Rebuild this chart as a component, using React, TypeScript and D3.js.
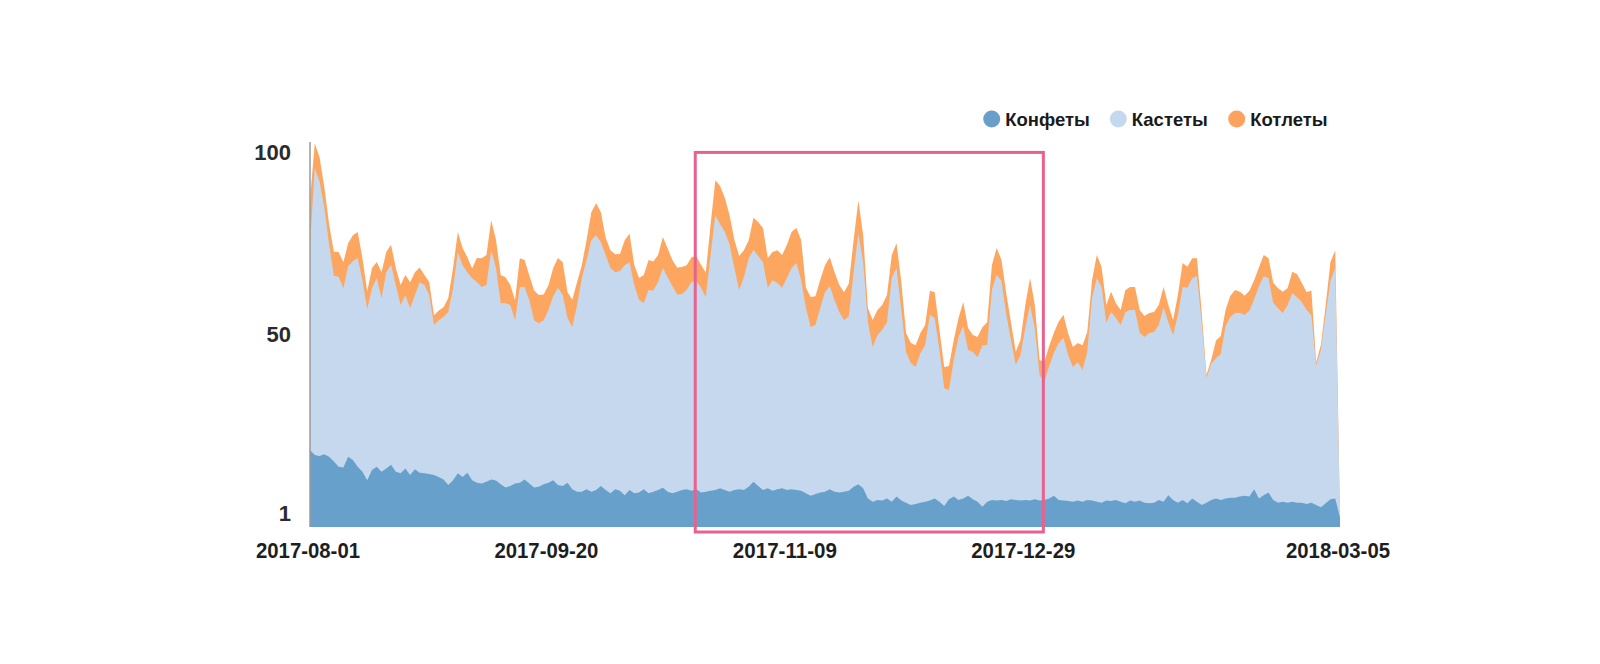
import React from 'react';
import * as d3 from 'd3';

// ---------- data (daily 2017-08-01 .. 2018-03-05) ----------
const startDate = '2017-08-01';
const endDate = '2018-03-05';

const seriesNames = ['Конфеты', 'Кастеты', 'Котлеты'];

const konfety = [
  18.5, 17.1, 16.8, 17.3, 16.6, 15.3, 13.9, 13.7, 16.6, 15.7,
  13.9, 12.5, 10.2, 13.0, 13.9, 12.5, 13.4, 14.4, 12.5, 12.1,
  13.4, 11.6, 13.2, 12.2, 12.1, 11.9, 11.6, 11.1, 10.4, 8.9,
  10.2, 12.1, 11.1, 12.2, 10.2, 9.5, 9.3, 9.8, 10.4, 10.1,
  9.1, 8.2, 8.6, 9.3, 9.5, 10.4, 9.3, 8.2, 8.4, 9.1,
  9.5, 10.2, 8.9, 8.6, 9.5, 7.7, 7.0, 7.0, 7.7, 7.0,
  7.5, 8.6, 7.5, 6.6, 7.7, 7.3, 6.1, 7.5, 6.6, 6.8,
  7.7, 6.6, 7.0, 7.5, 8.1, 7.0, 6.6, 7.0, 7.5, 7.7,
  7.3, 7.7, 6.8, 7.0, 7.3, 7.5, 8.0, 7.5, 7.0, 7.5,
  7.7, 7.5, 8.4, 9.8, 8.6, 7.5, 8.0, 7.3, 7.7, 8.0,
  7.5, 7.7, 7.5, 7.3, 6.6, 5.9, 6.4, 6.8, 7.0, 7.7,
  7.0, 6.8, 7.0, 7.3, 8.4, 9.1, 8.0, 5.2, 4.3, 4.8,
  4.6, 5.2, 4.3, 5.7, 4.6, 4.0, 3.4, 3.7, 4.0, 4.3,
  4.6, 5.2, 4.3, 3.1, 5.0, 5.7, 4.8, 5.2, 5.9, 5.0,
  4.3, 2.9, 4.3, 4.8, 4.6, 4.8, 4.5, 5.0, 4.8, 4.6,
  4.8, 4.6, 5.0, 4.6, 4.8, 5.2, 5.9, 4.8, 4.6, 4.5,
  4.3, 4.6, 4.3, 4.8, 4.6, 4.3, 4.0, 4.6, 4.5, 4.8,
  4.3, 3.9, 4.6, 4.3, 4.6, 4.0, 3.9, 4.0, 4.8, 4.3,
  6.1, 4.8, 4.0, 4.8, 3.9, 5.2, 4.3, 3.4, 4.0, 4.8,
  5.2, 4.8, 5.2, 5.4, 5.4, 5.7, 5.9, 5.7, 7.7, 5.2,
  6.1, 6.8, 4.8, 4.0, 4.3, 4.0, 4.3, 4.0, 4.0, 3.7,
  4.0, 3.4, 2.8, 3.9, 5.0, 5.2, 0,
];

const kastety = [
  56.2, 78.6, 75.3, 67.7, 58.3, 50.9, 52.0, 49.1, 52.2, 54.5,
  57.2, 52.5, 46.8, 49.8, 51.7, 47.6, 53.8, 54.8, 51.1, 46.1,
  47.5, 45.7, 47.7, 52.2, 51.6, 49.0, 41.1, 42.9, 44.5, 47.4,
  52.6, 60.6, 58.0, 55.0, 55.3, 55.0, 53.8, 53.9, 62.8, 58.3,
  49.6, 50.5, 49.6, 44.7, 53.6, 52.7, 50.2, 45.8, 44.8, 44.9,
  47.3, 50.4, 54.0, 52.3, 45.1, 44.5, 51.1, 58.5, 62.8, 68.9,
  69.8, 66.8, 64.4, 61.7, 59.5, 60.2, 63.0, 62.4, 57.1, 52.8,
  51.0, 55.7, 55.2, 57.0, 60.2, 58.8, 56.8, 54.1, 53.7, 54.6,
  57.2, 57.1, 56.1, 53.3, 64.6, 75.3, 72.4, 70.7, 67.8, 60.8,
  54.6, 58.3, 62.6, 63.5, 63.0, 62.4, 54.9, 57.7, 56.5, 54.9,
  58.1, 60.6, 62.2, 57.7, 50.8, 46.3, 46.3, 50.6, 54.7, 55.7,
  52.5, 49.5, 47.0, 47.8, 58.8, 68.7, 62.0, 48.3, 42.4, 45.2,
  46.8, 48.3, 61.3, 62.6, 52.2, 41.3, 38.9, 37.5, 41.0, 42.9,
  50.9, 49.4, 41.6, 32.3, 29.9, 37.4, 44.6, 47.2, 40.0, 40.3,
  39.6, 44.3, 42.9, 57.5, 61.8, 60.0, 51.2, 43.6, 37.0, 39.9,
  47.1, 53.6, 46.9, 34.4, 32.3, 36.2, 39.2, 43.0, 44.6, 40.0,
  36.9, 38.0, 36.1, 40.5, 55.5, 61.3, 59.1, 48.7, 51.8, 49.8,
  48.4, 52.4, 52.2, 52.5, 45.9, 45.4, 46.6, 46.8, 47.9, 53.3,
  47.4, 45.2, 51.4, 58.3, 59.0, 60.3, 61.8, 50.1, 34.2, 37.3,
  38.4, 40.0, 47.2, 49.5, 50.6, 50.3, 49.6, 50.9, 52.1, 58.1,
  60.0, 58.8, 54.0, 53.3, 51.7, 54.1, 57.2, 56.3, 55.0, 53.1,
  51.4, 38.3, 43.1, 51.6, 59.8, 63.1, 0,
];

const kotlety = [
  12.3, 6.8, 6.6, 5.5, 5.5, 6.6, 6.8, 7.1, 6.3, 7.1,
  7.1, 6.0, 4.9, 5.5, 4.4, 7.1, 5.5, 5.5, 4.7, 5.5,
  5.5, 7.1, 6.3, 4.1, 2.7, 3.6, 2.7, 2.7, 2.7, 3.8,
  5.5, 5.5, 4.7, 4.1, 2.7, 6.6, 7.9, 8.2, 8.2, 7.7,
  7.7, 7.1, 5.5, 5.5, 7.9, 7.4, 6.8, 8.2, 7.7, 7.1,
  6.8, 7.7, 8.2, 9.0, 7.1, 7.4, 6.3, 3.6, 5.5, 7.7,
  8.8, 8.2, 4.7, 4.9, 4.9, 4.7, 6.8, 7.9, 5.5, 6.0,
  7.7, 8.2, 7.9, 7.4, 8.5, 7.9, 7.1, 7.4, 7.4, 6.8,
  6.8, 6.8, 6.3, 6.8, 8.2, 9.6, 10.4, 9.3, 7.9, 7.7,
  9.3, 7.4, 4.9, 8.8, 9.3, 9.3, 8.2, 7.7, 9.0, 9.0,
  9.0, 9.9, 9.6, 11.0, 5.5, 8.2, 7.9, 7.7, 7.4, 7.9,
  7.7, 7.4, 7.7, 9.0, 8.8, 9.0, 7.4, 3.8, 7.4, 6.8,
  6.8, 7.4, 6.3, 6.8, 7.7, 5.2, 5.5, 6.0, 5.5, 5.5,
  6.6, 7.1, 5.5, 5.8, 6.6, 5.5, 5.2, 6.6, 6.0, 4.7,
  5.5, 4.9, 6.3, 6.8, 7.4, 5.8, 5.8, 4.9, 3.6, 4.1,
  6.3, 7.4, 6.3, 4.1, 5.5, 5.5, 5.5, 5.8, 6.3, 5.8,
  5.5, 5.2, 6.8, 5.5, 4.9, 6.3, 5.5, 4.9, 5.5, 4.1,
  4.1, 6.0, 6.3, 6.3, 6.3, 5.8, 5.5, 5.5, 5.5, 5.5,
  4.7, 4.1, 5.5, 6.6, 5.8, 5.5, 4.9, 2.7, 0.8, 1.1,
  4.9, 4.9, 4.4, 5.8, 6.3, 5.8, 5.2, 5.5, 5.2, 5.2,
  5.8, 5.5, 5.5, 5.5, 5.8, 4.7, 5.8, 6.3, 5.2, 4.9,
  6.8, 0.8, 1.4, 2.7, 5.2, 4.9, 0,
];

const xTickLabels = ['2017-08-01', '2017-09-20', '2017-11-09', '2017-12-29', '2018-03-05'];
const yTickValues = [1, 50, 100];
const highlightRange = ['2017-10-21', '2018-01-02'];

// ---------- styles ----------
const COLORS = ['#68a0cc', '#c6d8ed', '#fda660'];
const LEGEND_COLORS = ['#6a9fcb', '#c5d9ee', '#fda25e'];
const FONT = '"Liberation Sans", Arial, Helvetica, sans-serif';

const W = 1600;
const H = 664;
const PLOT = { left: 310, right: 1340, top: 140, bottom: 527 };

const parse = (s: string) => new Date(s + 'T00:00:00Z');

export default function App() {
  const dates = d3.utcDay.range(parse(startDate), d3.utcDay.offset(parse(endDate), 1));
  const rows = dates.map((date, i) => ({
    date,
    [seriesNames[0]]: konfety[i],
    [seriesNames[1]]: kastety[i],
    [seriesNames[2]]: kotlety[i],
  }));

  const x = d3.scaleUtc().domain([parse(startDate), parse(endDate)]).range([PLOT.left, PLOT.right]);
  const y = d3.scaleLinear().domain([-2.63, 103.4]).range([PLOT.bottom, PLOT.top]);

  const stacked = d3.stack<any>().keys(seriesNames)(rows);

  const area = d3
    .area<any>()
    .x((d) => x(d.data.date))
    .y0(PLOT.bottom)
    .y1((d) => y(d[1]))
    .curve(d3.curveLinear);

  const legendX = [991.7, 1118.3, 1236.7];
  const legendY = 119;

  const hx0 = x(parse(highlightRange[0])) - 1;
  const hx1 = x(parse(highlightRange[1])) - 1;

  return (
    <svg
      width={W}
      height={H}
      style={{ position: 'absolute', left: 0, top: 0, background: '#fff' }}
      fontFamily={FONT}
    >
      <rect x={0} y={0} width={W} height={H} fill="#ffffff" />

      {/* stacked areas, drawn top layer first so lower layers cover it */}
      {stacked
        .slice()
        .reverse()
        .map((layer) => {
          const idx = seriesNames.indexOf(layer.key);
          return <path key={layer.key} d={area(layer) || ''} fill={COLORS[idx]} />;
        })}

      {/* left axis line */}
      <line x1={PLOT.left} x2={PLOT.left} y1={PLOT.top + 2} y2={PLOT.bottom} stroke="#9a9a9a" strokeWidth={1.5} />

      {/* y tick labels */}
      {yTickValues.map((v) => (
        <text
          key={v}
          x={291}
          y={y(v)}
          textAnchor="end"
          dominantBaseline="central"
          fontSize={22}
          fontWeight="bold"
          fill="#2b2b2b"
        >
          {v}
        </text>
      ))}

      {/* x tick labels */}
      {xTickLabels.map((s) => (
        <text
          key={s}
          x={x(parse(s)) - 2}
          y={550}
          textAnchor="middle"
          dominantBaseline="central"
          fontSize={22}
          fontWeight="bold"
          fill="#1e1e1e"
          textLength={104}
          lengthAdjust="spacingAndGlyphs"
        >
          {s}
        </text>
      ))}

      {/* highlight box */}
      <rect
        x={hx0}
        y={y(100)}
        width={hx1 - hx0}
        height={532 - y(100)}
        fill="none"
        stroke="#e8628f"
        strokeWidth={3}
      />

      {/* legend */}
      {seriesNames.map((name, i) => (
        <g key={name}>
          <circle cx={legendX[i]} cy={legendY} r={8.5} fill={LEGEND_COLORS[i]} />
          <text
            x={legendX[i] + 13.5}
            y={legendY}
            dominantBaseline="central"
            fontSize={18.5}
            fontWeight="bold"
            fill="#1a1a1a"
          >
            {name}
          </text>
        </g>
      ))}
    </svg>
  );
}
